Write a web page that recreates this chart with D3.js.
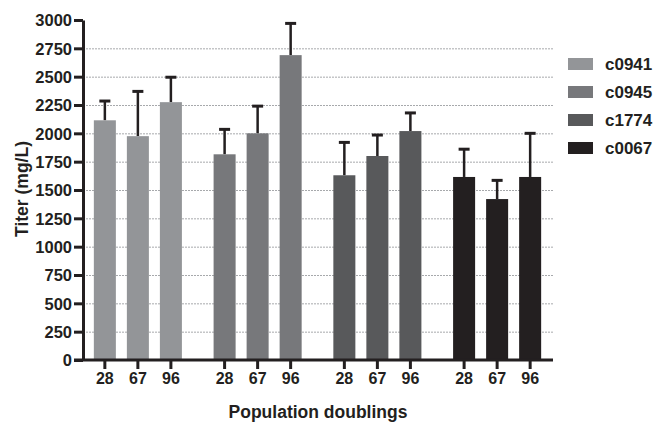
<!DOCTYPE html>
<html>
<head>
<meta charset="utf-8">
<script src="https://cdn.jsdelivr.net/npm/d3@7"></script>
<style>
  body { margin: 0; background: #fff; }
  text { font-family: "Liberation Sans", Arial, sans-serif; font-weight: bold; fill: #231f20; }
</style>
</head>
<body>
<div id="my_dataviz"></div>
<script>
// Data
var cellLines = ["c0941", "c0945", "c1774", "c0067"];
var doublings = ["28", "67", "96"];
var titerMean = {
  c0941: [2115, 1975, 2275],
  c0945: [1815, 2000, 2690],
  c1774: [1630, 1800, 2020],
  c0067: [1615, 1420, 1615]
};
var titerSd = {
  c0941: [170, 395, 220],
  c0945: [220, 240, 280],
  c1774: [290, 185, 160],
  c0067: [245, 165, 385]
};
var yTicks = [0, 250, 500, 750, 1000, 1250, 1500, 1750, 2000, 2250, 2500, 2750, 3000];
var colors = ["#939598", "#77787b", "#58595b", "#231f20"];

var W = 657, H = 425;
var plotLeft = 83, plotRight = 553, plotTop = 20, plotBottom = 360;

var svg = d3.select("#my_dataviz")
  .append("svg")
    .attr("width", W)
    .attr("height", H);

// scales
var y = d3.scaleLinear()
  .domain([0, 3000])
  .range([plotBottom, plotTop]);

var xGroup = d3.scaleBand()
  .domain(cellLines)
  .range([78, 557]);

var xBar = d3.scaleBand()
  .domain(doublings)
  .range([0, xGroup.bandwidth()])
  .paddingInner(1 / 3)
  .paddingOuter(0.48);

var color = d3.scaleOrdinal()
  .domain(cellLines)
  .range(colors);

// flatten for drawing
var rows = [];
cellLines.forEach(function (c) {
  doublings.forEach(function (d, i) {
    rows.push({line: c, pd: d, mean: titerMean[c][i], sd: titerSd[c][i]});
  });
});

// dotted gridlines
svg.append("g")
  .selectAll("line")
  .data(yTicks.filter(function (t) { return t > 0 && t < 3000; }))
  .enter()
  .append("line")
    .attr("x1", plotLeft)
    .attr("x2", plotRight)
    .attr("y1", function (d) { return y(d) + 0.5; })
    .attr("y2", function (d) { return y(d) + 0.5; })
    .attr("stroke", "#a7a9ac")
    .attr("stroke-width", 1)
    .attr("stroke-dasharray", "2,1");

// error bars (upper only)
var eb = svg.append("g")
  .selectAll("g")
  .data(rows)
  .enter()
  .append("g")
    .attr("transform", function (d) {
      return "translate(" + (xGroup(d.line) + xBar(d.pd) + xBar.bandwidth() / 2) + ",0)";
    });

eb.append("line")
  .attr("x1", 0).attr("x2", 0)
  .attr("y1", function (d) { return y(d.mean); })
  .attr("y2", function (d) { return y(d.mean + d.sd); })
  .attr("stroke", "#231f20")
  .attr("stroke-width", 2.5);

eb.append("line")
  .attr("x1", -5.5).attr("x2", 5.5)
  .attr("y1", function (d) { return y(d.mean + d.sd); })
  .attr("y2", function (d) { return y(d.mean + d.sd); })
  .attr("stroke", "#231f20")
  .attr("stroke-width", 3);

// bars
svg.append("g")
  .selectAll("rect")
  .data(rows)
  .enter()
  .append("rect")
    .attr("x", function (d) { return xGroup(d.line) + xBar(d.pd); })
    .attr("y", function (d) { return y(d.mean); })
    .attr("width", xBar.bandwidth())
    .attr("height", function (d) { return y(0) - y(d.mean) - 1; })
    .style("fill", function (d) { return color(d.line); });

// Y axis
var yAxis = svg.append("g")
  .attr("transform", "translate(" + plotLeft + ",0)")
  .call(d3.axisLeft(y)
    .tickValues(yTicks)
    .tickFormat(d3.format("d"))
    .tickSize(9)
    .tickPadding(2)
    .tickSizeOuter(0));
yAxis.select(".domain").attr("stroke", "#231f20").attr("stroke-width", 3);
yAxis.selectAll(".tick line").attr("stroke", "#231f20").attr("stroke-width", 3);
yAxis.selectAll(".tick text")
  .attr("font-size", "16.5px")
  .attr("dy", "0.36em")
  .style("font-family", "'Liberation Sans', Arial, sans-serif")
  .style("font-weight", "bold")
  .attr("fill", "#231f20");

// X axis line
svg.append("line")
  .attr("x1", plotLeft - 9)
  .attr("x2", plotRight)
  .attr("y1", plotBottom)
  .attr("y2", plotBottom)
  .attr("stroke", "#231f20")
  .attr("stroke-width", 3);

// X ticks and labels per group
cellLines.forEach(function (c) {
  var gx = svg.append("g")
    .attr("transform", "translate(" + xGroup(c) + "," + (plotBottom + 1) + ")")
    .call(d3.axisBottom(xBar).tickSize(8).tickPadding(4).tickSizeOuter(0));
  gx.select(".domain").remove();
  gx.selectAll(".tick line").attr("stroke", "#231f20").attr("stroke-width", 3);
  gx.selectAll(".tick text")
    .attr("font-size", "16px")
    .style("font-family", "'Liberation Sans', Arial, sans-serif")
    .style("font-weight", "bold")
    .attr("fill", "#231f20");
});

// axis titles
svg.append("text")
  .attr("x", (plotLeft + plotRight) / 2)
  .attr("y", 418)
  .attr("text-anchor", "middle")
  .attr("font-size", "17.5px")
  .text("Population doublings");

svg.append("text")
  .attr("transform", "translate(28," + 189 + ") rotate(-90)")
  .attr("text-anchor", "middle")
  .attr("font-size", "17.5px")
  .text("Titer (mg/L)");

// legend
var legend = svg.append("g")
  .selectAll("g")
  .data(cellLines)
  .enter()
  .append("g")
    .attr("transform", function (d, i) { return "translate(568," + (58 + i * 28) + ")"; });

legend.append("rect")
  .attr("width", 25)
  .attr("height", 12)
  .style("fill", function (d) { return color(d); });

legend.append("text")
  .attr("x", 37)
  .attr("y", 6)
  .attr("dy", "0.36em")
  .attr("font-size", "17px")
  .text(function (d) { return d; });
</script>
</body>
</html>
